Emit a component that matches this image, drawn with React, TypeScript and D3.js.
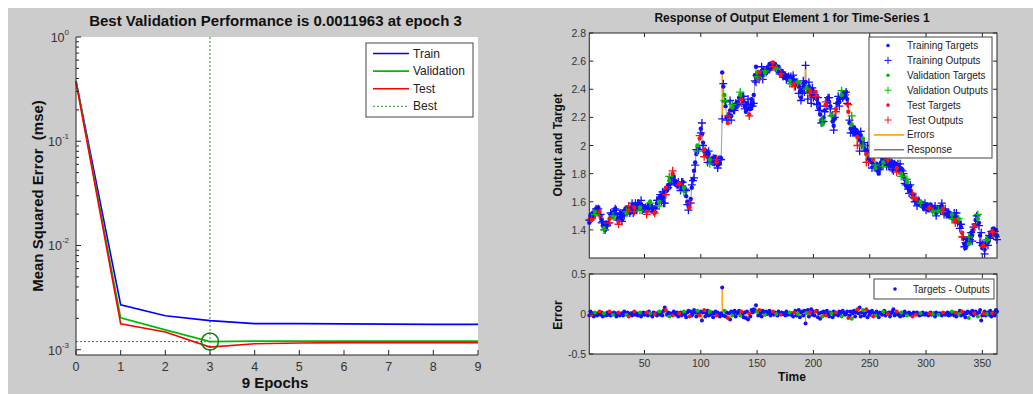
import React from "react";
import * as d3 from "d3";

// ---- performance panel data ----
const epochs = [0, 1, 2, 3, 4, 5, 6, 7, 8, 9];
const trainPerf = [0.38, 0.0027, 0.00212, 0.0019, 0.00178, 0.00178, 0.00177, 0.00176, 0.00175, 0.00175];
const valPerf = [0.38, 0.00202, 0.00155, 0.0011963, 0.00121, 0.00121, 0.00121, 0.00121, 0.00121, 0.00121];
const testPerf = [0.37, 0.00177, 0.00148, 0.00106, 0.00114, 0.00116, 0.00117, 0.00117, 0.00117, 0.00117];
const bestEpoch = 3;
const bestPerf = 0.0011963;
const perfDecades = [1e-3, 1e-2, 1e-1, 1];
const perfExponents = ["-3", "-2", "-1", "0"];

// ---- response panel data ----
const targets = [
  1.45, 1.50, 1.47, 1.52, 1.49, 1.53, 1.55, 1.52, 1.56, 1.53,
  1.50, 1.47, 1.43, 1.41, 1.40, 1.42, 1.45, 1.44, 1.48, 1.50,
  1.52, 1.49, 1.53, 1.55, 1.51, 1.48, 1.46, 1.49, 1.52, 1.47,
  1.50, 1.53, 1.55, 1.52, 1.56, 1.54, 1.52, 1.55, 1.57, 1.54,
  1.56, 1.58, 1.55, 1.57, 1.59, 1.56, 1.58, 1.55, 1.57, 1.54,
  1.56, 1.53, 1.55, 1.58, 1.60, 1.56, 1.53, 1.55, 1.52, 1.56,
  1.59, 1.62, 1.60, 1.64, 1.62, 1.65, 1.63, 1.67, 1.70, 1.68,
  1.72, 1.75, 1.73, 1.77, 1.80, 1.78, 1.75, 1.72, 1.74, 1.71,
  1.73, 1.70, 1.72, 1.74, 1.70, 1.68, 1.64, 1.60, 1.58, 1.56,
  1.62, 1.70, 1.76, 1.82, 1.88, 1.94, 2.00, 1.98, 2.05, 2.12,
  2.08, 2.02, 1.97, 1.93, 1.96, 1.92, 1.94, 1.90, 1.88, 1.91,
  1.87, 1.89, 1.92, 1.88, 1.86, 1.90, 1.87, 1.91, 2.52, 2.42,
  2.36, 2.28, 2.20, 2.16, 2.22, 2.25, 2.21, 2.27, 2.25, 2.29,
  2.27, 2.31, 2.30, 2.34, 2.36, 2.33, 2.35, 2.31, 2.28, 2.24,
  2.30, 2.26, 2.22, 2.26, 2.33, 2.30, 2.36, 2.50, 2.56, 2.52,
  2.49, 2.52, 2.50, 2.53, 2.51, 2.54, 2.52, 2.55, 2.53, 2.56,
  2.58, 2.55, 2.57, 2.59, 2.56, 2.58, 2.55, 2.53, 2.56, 2.52,
  2.50, 2.53, 2.49, 2.51, 2.48, 2.50, 2.47, 2.49, 2.46, 2.48,
  2.45, 2.47, 2.44, 2.46, 2.43, 2.45, 2.42, 2.38, 2.34, 2.40,
  2.44, 2.42, 2.45, 2.41, 2.38, 2.42, 2.39, 2.36, 2.40, 2.37,
  2.34, 2.38, 2.33, 2.30, 2.26, 2.22, 2.18, 2.15, 2.20, 2.25,
  2.29, 2.32, 2.34, 2.31, 2.28, 2.22, 2.17, 2.14, 2.19, 2.26,
  2.30, 2.33, 2.31, 2.34, 2.36, 2.38, 2.37, 2.35, 2.38, 2.33,
  2.24, 2.16, 2.12, 2.15, 2.10, 2.13, 2.08, 2.11, 2.06, 2.09,
  2.04, 2.07, 2.02, 2.05, 2.00, 1.97, 1.94, 1.96, 1.91, 1.89,
  1.92, 1.88, 1.90, 1.86, 1.84, 1.87, 1.82, 1.80, 1.85, 1.88,
  1.91, 1.88, 1.92, 1.89, 1.86, 1.90, 1.87, 1.85, 1.89, 1.86,
  1.88, 1.85, 1.87, 1.84, 1.86, 1.82, 1.84, 1.80, 1.83, 1.78,
  1.76, 1.72, 1.74, 1.70, 1.68, 1.71, 1.66, 1.63, 1.65, 1.61,
  1.62, 1.59, 1.61, 1.58, 1.60, 1.57, 1.59, 1.56, 1.58, 1.55,
  1.57, 1.54, 1.56, 1.58, 1.55, 1.53, 1.56, 1.54, 1.52, 1.55,
  1.53, 1.56, 1.54, 1.57, 1.55, 1.52, 1.54, 1.51, 1.53, 1.50,
  1.52, 1.49, 1.51, 1.48, 1.50, 1.47, 1.49, 1.46, 1.48, 1.45,
  1.42, 1.38, 1.34, 1.30, 1.27, 1.31, 1.34, 1.30, 1.35, 1.38,
  1.36, 1.40, 1.43, 1.47, 1.50, 1.48, 1.45, 1.36, 1.30, 1.27,
  1.29, 1.26, 1.30, 1.33, 1.31, 1.35, 1.38, 1.36, 1.39, 1.41,
  1.37, 1.40, 1.36,
];

// target - output, in hundredths
const errorsCents = [
  -2, 3, -1, 1, -3, 2, 0, -2, 1, 3,
  -1, 2, -3, 1, 0, -2, 2, -1, 3, -2,
  1, -1, 2, 0, -3, 1, 2, -2, 0, 1,
  -2, 3, 1, -1, 2, -3, 0, 1, -2, 2,
  3, -1, 1, -2, 0, 2, -3, 1, 2, -1,
  0, 2, -2, 3, 1, -1, -3, 2, 0, 1,
  -2, 1, 3, -1, 2, -2, 4, 8, 5, -1,
  2, -3, 1, 0, -2, 3, 1, -1, 2, -3,
  1, 2, -2, 0, 3, -1, -4, 2, 4, -3,
  3, -2, 1, 5, 2, -3, 4, 1, -2, 3,
  -8, 2, 5, -3, 1, 4, -2, 3, -1, 2,
  -4, 1, 3, -2, 2, 0, -3, 1, 33, -2,
  4, -3, 2, -5, 1, -7, 3, -2, 0, 4,
  -3, 2, 1, 4, -2, 3, 0, -4, 2, -5,
  3, -7, 1, -3, 5, 2, 6, 4, 11, 3,
  -2, 5, 1, -3, 4, 2, -1, 3, 0, 2,
  4, -2, 1, 3, -1, 2, 0, -2, 3, 1,
  -1, 2, 0, 1, -2, 3, -1, 0, 2, -1,
  1, -3, 2, 4, -2, 0, 5, -4, 2, 3,
  -2, 4, -12, 1, 5, -3, 2, 6, -1, 3,
  -2, 3, 4, -4, 1, -6, 2, -3, 3, 1,
  -2, 4, 0, -3, 2, 1, -4, 3, -1, 2,
  0, -2, 3, 1, -3, 4, 2, -1, 0, 3,
  -5, -2, 3, -6, 1, 4, -3, 2, 6, 1,
  8, -3, 2, 5, -2, 1, 6, -4, 3, -1,
  2, 4, -3, 1, -2, 3, 0, -4, 2, 1,
  -1, 3, 4, -2, 1, 0, 2, -3, 1, 3,
  6, -2, 1, 3, -1, 0, -3, 2, 1, -2,
  3, 0, -2, 1, 2, -1, 0, -3, 2, 1,
  -1, 2, 0, -2, 1, -1, 2, 0, -1, 1,
  0, -2, 1, 2, -1, 0, 1, -3, 2, 0,
  -1, 1, 0, -2, 2, 1, -1, 0, 2, -2,
  1, -1, 3, 0, -2, 2, -3, 1, 0, 4,
  -2, 3, -1, 2, -4, 1, 3, -5, 2, 0,
  4, -2, 1, 3, 0, -3, 2, 5, -8, -2,
  1, 3, -2, 0, 2, -1, 4, -3, 1, 2,
  -2, 5, 3,
];

// r = training, v = validation, t = test
const splitCodes =
  "rrtrrvrrrt" + "rrrvrrrrtr" + "rvrrrrtrrr" + "rrrvrtrrrr" + "trrrrvrrrr" +
  "rtrrvrrrtr" + "rrvrrrrrtr" + "rvrrtrrrrr" + "trrrvrrrrt" + "rrrrrrvrtr" +
  "rrtrrrrvrr" + "rrrtrrrrrr" + "vrrtrrrvrr" + "rrrrvtrrrr" + "rrtrrrrrrv" +
  "rtrrrrvrrr" + "rrrtrrvrrr" + "trrrrrrrvr" + "rrtrrvrrrr" + "rrrvrrtrrr" +
  "rtrrrrrvrr" + "trrrrvrrrt" + "rrrrvrrrrr" + "trrvrrrrtr" + "rrrvrrtrrr" +
  "rrtrvrrrrr" + "rvrrrtrrrr" + "rrrtrrrvrr" + "rrvrrrrtrr" + "trrrvrrrrr" +
  "rrtrrvrrrr" + "vrrrtrrrrr" + "rrvrrtrrvr" + "rtrrrrrvrr" + "rrtrrvrrrr" +
  "trrvrrrrtr" + "rrr";

const timeTicks = [50, 100, 150, 200, 250, 300, 350];
const outputTicks = [1.4, 1.6, 1.8, 2, 2.2, 2.4, 2.6, 2.8];
const errorTicks = [-0.5, 0, 0.5];

const FONT = "Liberation Sans, Arial, Helvetica, sans-serif";
const AX = "#262626";
const setColor: Record<string, string> = { r: "#1010ff", v: "#00bb00", t: "#ff1010" };
const ERR_COLOR = "#ff9c00";
const RESP_COLOR = "#555566";

export default function App() {
  // left panel scales
  const xE = d3.scaleLinear().domain([0, 9]).range([76, 478]);
  const yP = d3.scaleLog().domain([0.00089, 1]).range([355, 37]);
  const perfLine = d3
    .line<number>()
    .x((_, i) => xE(epochs[i]))
    .y((d) => yP(d));

  const minorTicks: number[] = [];
  perfDecades.slice(0, 3).forEach((dec) => {
    for (let k = 2; k <= 9; k++) minorTicks.push(dec * k);
  });

  // right panel scales
  const xT = d3.scaleLinear().domain([1, 363]).range([589.3, 997]);
  const yO = d3.scaleLinear().domain([1.2, 2.8]).range([258, 33]);
  const yErr = d3.scaleLinear().domain([-0.5, 0.5]).range([354, 274]);

  const pts = targets.map((tg, i) => {
    const e = errorsCents[i] / 100;
    return { t: i + 1, target: tg, output: tg - e, err: e, set: splitCodes[i] };
  });
  const responseLine = d3
    .line<{ t: number; output: number }>()
    .x((d) => xT(d.t))
    .y((d) => yO(d.output));

  const plus = (cx: number, cy: number, s = 4) =>
    `M${cx - s},${cy}H${cx + s}M${cx},${cy - s}V${cy + s}`;

  const order = ["r", "v", "t"];

  const rightBox = (top: number, bottom: number) => (
    <rect x={589.3} y={top} width={997 - 589.3} height={bottom - top} fill="#fff" stroke="none" />
  );

  return (
    <svg width={1033} height={394} style={{ position: "absolute", left: 0, top: 0 }} fontFamily={FONT}>
      <rect x={0} y={0} width={1033} height={394} fill="#fff" />
      <rect x={8} y={8} width={1025} height={386} fill="#cccccc" />

      {/* ================= LEFT: performance ================= */}
      <rect x={76} y={37} width={402} height={318} fill="#fff" />
      <text x={275.5} y={26} textAnchor="middle" fontSize={15} fontWeight="bold" fill="#111">
        Best Validation Performance is 0.0011963 at epoch 3
      </text>

      {/* best markers */}
      <line x1={xE(bestEpoch)} x2={xE(bestEpoch)} y1={37} y2={355} stroke="#2f8f2f" strokeWidth={1} strokeDasharray="2,2" />
      <line x1={76} x2={xE(bestEpoch)} y1={yP(bestPerf)} y2={yP(bestPerf)} stroke="#2f8f2f" strokeWidth={1} strokeDasharray="2,2" />

      <path d={perfLine(trainPerf) || ""} fill="none" stroke="#0000ff" strokeWidth={1.6} />
      <path d={perfLine(valPerf) || ""} fill="none" stroke="#00bb00" strokeWidth={1.6} />
      <path d={perfLine(testPerf) || ""} fill="none" stroke="#ff0000" strokeWidth={1.6} />
      <circle cx={xE(bestEpoch)} cy={yP(bestPerf)} r={8.5} fill="none" stroke="#108010" strokeWidth={1.5} />

      {/* axes */}
      <line x1={76} x2={76} y1={37} y2={355} stroke={AX} strokeWidth={1} />
      <line x1={76} x2={478} y1={355} y2={355} stroke={AX} strokeWidth={1} />
      {epochs.map((e) => (
        <g key={"xe" + e}>
          <line x1={xE(e)} x2={xE(e)} y1={355} y2={350} stroke={AX} />
          <text x={xE(e)} y={371} textAnchor="middle" fontSize={12.5} fill="#333">{e}</text>
        </g>
      ))}
      {perfDecades.map((d, i) => (
        <g key={"yd" + i}>
          <line x1={76} x2={81} y1={yP(d)} y2={yP(d)} stroke={AX} />
          <text x={69} y={yP(d) + 5} textAnchor="end" fontSize={12.5} fill="#333">
            10<tspan fontSize={8} dy={-7}>{perfExponents[i]}</tspan>
          </text>
        </g>
      ))}
      {minorTicks.map((m, i) => (
        <line key={"ym" + i} x1={76} x2={79} y1={yP(m)} y2={yP(m)} stroke={AX} />
      ))}
      <text x={275} y={388} textAnchor="middle" fontSize={15} fontWeight="bold" fill="#111">9 Epochs</text>
      <text transform="translate(37,196) rotate(-90)" textAnchor="middle" dominantBaseline="central" fontSize={15} fontWeight="bold" fill="#111">
        {"Mean Squared Error\u00a0 (mse)"}
      </text>

      {/* legend */}
      <rect x={366} y={43} width={107} height={74} fill="#fff" stroke="#444" strokeWidth={1} />
      {[
        { label: "Train", color: "#0000ff", dash: "" },
        { label: "Validation", color: "#00bb00", dash: "" },
        { label: "Test", color: "#ff0000", dash: "" },
        { label: "Best", color: "#2f8f2f", dash: "2,2" },
      ].map((it, i) => (
        <g key={it.label}>
          <line x1={373} x2={409} y1={53.5 + i * 17.6} y2={53.5 + i * 17.6} stroke={it.color} strokeWidth={it.dash ? 1 : 1.6} strokeDasharray={it.dash} />
          <text x={413} y={53.5 + i * 17.6} dominantBaseline="central" fontSize={12} fill="#222">{it.label}</text>
        </g>
      ))}

      {/* ================= RIGHT: response ================= */}
      <text x={792} y={22} textAnchor="middle" fontSize={12} fontWeight="bold" fill="#111">
        Response of Output Element 1 for Time-Series 1
      </text>

      {/* top axes */}
      {rightBox(33, 258)}
      <path d={responseLine(pts) || ""} fill="none" stroke={RESP_COLOR} strokeWidth={0.6} />
      {pts.map((p) => (
        <line key={"el" + p.t} x1={xT(p.t)} x2={xT(p.t)} y1={yO(p.target)} y2={yO(p.output)} stroke={ERR_COLOR} strokeWidth={1.4} />
      ))}
      {order.map((s) =>
        pts
          .filter((p) => p.set === s)
          .map((p) => (
            <g key={"m" + p.t}>
              <circle cx={xT(p.t)} cy={yO(p.target)} r={2.2} fill={setColor[s]} />
              <path d={plus(xT(p.t), yO(p.output))} stroke={setColor[s]} strokeWidth={1.3} fill="none" />
            </g>
          ))
      )}
      <rect x={589.3} y={33} width={997 - 589.3} height={225} fill="none" stroke={AX} strokeWidth={1} />
      {timeTicks.map((t) => (
        <g key={"tt" + t}>
          <line x1={xT(t)} x2={xT(t)} y1={258} y2={254} stroke={AX} />
          <line x1={xT(t)} x2={xT(t)} y1={33} y2={37} stroke={AX} />
        </g>
      ))}
      {outputTicks.map((v) => (
        <g key={"yo" + v}>
          <line x1={589.3} x2={593.3} y1={yO(v)} y2={yO(v)} stroke={AX} />
          <line x1={997} x2={993} y1={yO(v)} y2={yO(v)} stroke={AX} />
          <text x={586} y={yO(v)} textAnchor="end" dominantBaseline="central" fontSize={10.5} fill="#333">{d3.format("")(v)}</text>
        </g>
      ))}
      <text transform="translate(558,145) rotate(-90)" textAnchor="middle" dominantBaseline="central" fontSize={12} fontWeight="bold" fill="#111">
        Output and Target
      </text>

      {/* top legend */}
      <rect x={869} y={37} width={123} height={121} fill="#fff" stroke="#444" strokeWidth={1} />
      {[
        { label: "Training Targets", color: setColor.r, kind: "dot" },
        { label: "Training Outputs", color: setColor.r, kind: "plus" },
        { label: "Validation Targets", color: setColor.v, kind: "dot" },
        { label: "Validation Outputs", color: setColor.v, kind: "plus" },
        { label: "Test Targets", color: setColor.t, kind: "dot" },
        { label: "Test Outputs", color: setColor.t, kind: "plus" },
        { label: "Errors", color: ERR_COLOR, kind: "line" },
        { label: "Response", color: RESP_COLOR, kind: "line" },
      ].map((it, i) => {
        const y = 45.5 + i * 14.9;
        return (
          <g key={it.label}>
            {it.kind === "dot" && <circle cx={888} cy={y} r={1.8} fill={it.color} />}
            {it.kind === "plus" && <path d={plus(888, y, 3.5)} stroke={it.color} strokeWidth={1} />}
            {it.kind === "line" && <line x1={874} x2={904} y1={y} y2={y} stroke={it.color} strokeWidth={it.label === "Errors" ? 1.6 : 1.2} />}
            <text x={907} y={y} dominantBaseline="central" fontSize={10} fill="#222">{it.label}</text>
          </g>
        );
      })}

      {/* bottom axes */}
      {rightBox(274, 354)}
      {pts.map((p) => (
        <line key={"es" + p.t} x1={xT(p.t)} x2={xT(p.t)} y1={yErr(0)} y2={yErr(p.err)} stroke={ERR_COLOR} strokeWidth={1.4} />
      ))}
      {order.map((s) =>
        pts
          .filter((p) => p.set === s)
          .map((p) => <circle key={"ed" + p.t} cx={xT(p.t)} cy={yErr(p.err)} r={2} fill={setColor[s]} />)
      )}
      <rect x={589.3} y={274} width={997 - 589.3} height={80} fill="none" stroke={AX} strokeWidth={1} />
      {timeTicks.map((t) => (
        <g key={"bt" + t}>
          <line x1={xT(t)} x2={xT(t)} y1={354} y2={350} stroke={AX} />
          <line x1={xT(t)} x2={xT(t)} y1={274} y2={278} stroke={AX} />
          <text x={xT(t)} y={367} textAnchor="middle" fontSize={10.5} fill="#333">{t}</text>
        </g>
      ))}
      {errorTicks.map((v) => (
        <g key={"ey" + v}>
          <line x1={589.3} x2={593.3} y1={yErr(v)} y2={yErr(v)} stroke={AX} />
          <line x1={997} x2={993} y1={yErr(v)} y2={yErr(v)} stroke={AX} />
          <text x={586} y={yErr(v)} textAnchor="end" dominantBaseline="central" fontSize={10.5} fill="#333">{v}</text>
        </g>
      ))}
      <text transform="translate(558,315) rotate(-90)" textAnchor="middle" dominantBaseline="central" fontSize={12} fontWeight="bold" fill="#111">
        Error
      </text>
      <text x={792} y={381} textAnchor="middle" fontSize={12} fontWeight="bold" fill="#111">Time</text>

      {/* bottom legend */}
      <rect x={874} y={279} width={120} height={20} fill="#fff" stroke="#444" strokeWidth={1} />
      <circle cx={895} cy={289} r={1.8} fill={setColor.r} />
      <text x={913} y={289} dominantBaseline="central" fontSize={10} fill="#222">Targets - Outputs</text>
    </svg>
  );
}
